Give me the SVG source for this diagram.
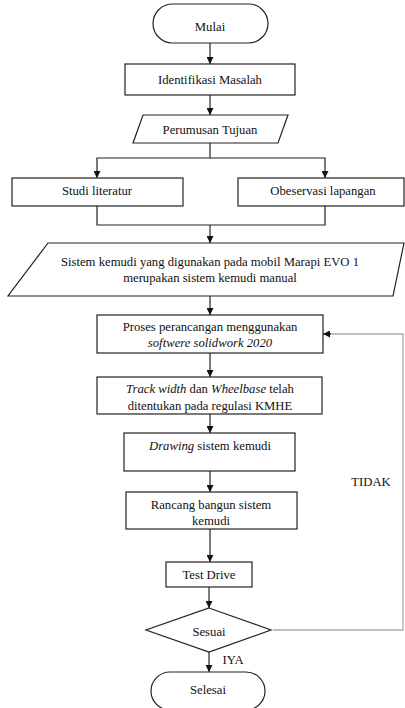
<svg xmlns="http://www.w3.org/2000/svg" width="405" height="708" viewBox="0 0 405 708">
<style>
.s{fill:#fff;stroke:#222;stroke-width:1.2}
.c{fill:none;stroke:#222;stroke-width:1.2}
.g{fill:none;stroke:#aaa;stroke-width:1.3}
text{font-family:"Liberation Serif","Times New Roman",serif;font-size:12.7px;fill:#111;text-anchor:middle}
</style>
<defs>
<marker id="a" viewBox="0 0 8 8" refX="8" refY="4" markerWidth="7" markerHeight="7" markerUnits="userSpaceOnUse" orient="auto">
<path d="M0,0L8,4L0,8z" fill="#111"/>
</marker>
</defs>
<rect width="405" height="708" fill="#fff"/>
<g id="connectors">
<path class="c" d="M210,43V64" marker-end="url(#a)"/>
<path class="c" d="M210,95V115" marker-end="url(#a)"/>
<path class="c" d="M210,143V158H97V178" marker-end="url(#a)"/>
<path class="c" d="M210,158H325V178" marker-end="url(#a)"/>
<path class="c" d="M97,206V225H325V206"/>
<path class="c" d="M210,225V243" marker-end="url(#a)"/>
<path class="c" d="M210,296V315" marker-end="url(#a)"/>
<path class="c" d="M210,353V377" marker-end="url(#a)"/>
<path class="c" d="M210,414V433" marker-end="url(#a)"/>
<path class="c" d="M210,471V492" marker-end="url(#a)"/>
<path class="c" d="M210,529V562" marker-end="url(#a)"/>
<path class="c" d="M209,587V608" marker-end="url(#a)"/>
<path class="c" d="M209,652V672" marker-end="url(#a)"/>
<path class="g" d="M273,630H403V334H330"/>
<path class="c" d="M331,334H323" marker-end="url(#a)"/>
<text x="371" y="486">TIDAK</text>
<text x="233" y="664">IYA</text>
</g>
<g id="mulai">
<rect class="s" x="153" y="4" width="115" height="39" rx="19.5"/>
<text x="210" y="31">Mulai</text>
</g>
<g id="identifikasi">
<rect class="s" x="125" y="64" width="170" height="31"/>
<text x="210" y="84">Identifikasi Masalah</text>
</g>
<g id="perumusan">
<polygon class="s" points="143,115 288,115 278,143 133,143"/>
<text x="210" y="134">Perumusan Tujuan</text>
</g>
<g id="studi">
<rect class="s" x="12" y="178" width="171" height="28"/>
<text x="97" y="195">Studi literatur</text>
</g>
<g id="observasi">
<rect class="s" x="238" y="178" width="166" height="28"/>
<text x="323" y="195">Obeservasi lapangan</text>
</g>
<g id="sistem">
<polygon class="s" points="48,243 404,243 393,296 8,296"/>
<text x="210" y="266">Sistem kemudi yang digunakan pada mobil Marapi EVO 1</text>
<text x="210" y="282">merupakan sistem kemudi manual</text>
</g>
<g id="proses">
<rect class="s" x="97" y="315" width="226" height="38"/>
<text x="210" y="331">Proses perancangan menggunakan</text>
<text x="210" y="347" font-style="italic">softwere solidwork 2020</text>
</g>
<g id="track">
<rect class="s" x="97" y="377" width="225" height="37"/>
<text x="210" y="393"><tspan font-style="italic">Track width</tspan> dan <tspan font-style="italic">Wheelbase</tspan> telah</text>
<text x="210" y="410">ditentukan pada regulasi KMHE</text>
</g>
<g id="drawing">
<rect class="s" x="124" y="433" width="171" height="38"/>
<text x="210" y="450"><tspan font-style="italic">Drawing</tspan> sistem kemudi</text>
</g>
<g id="rancang">
<rect class="s" x="126" y="492" width="171" height="37"/>
<text x="211" y="509">Rancang bangun sistem</text>
<text x="211" y="525">kemudi</text>
</g>
<g id="test">
<rect class="s" x="166" y="562" width="86" height="25"/>
<text x="209" y="579">Test Drive</text>
</g>
<g id="sesuai">
<polygon class="s" points="209,608 271,630 209,652 146,630"/>
<text x="209" y="636">Sesuai</text>
</g>
<g id="selesai">
<rect class="s" x="151" y="672" width="114" height="38" rx="19"/>
<text x="208" y="694">Selesai</text>
</g>
</svg>
